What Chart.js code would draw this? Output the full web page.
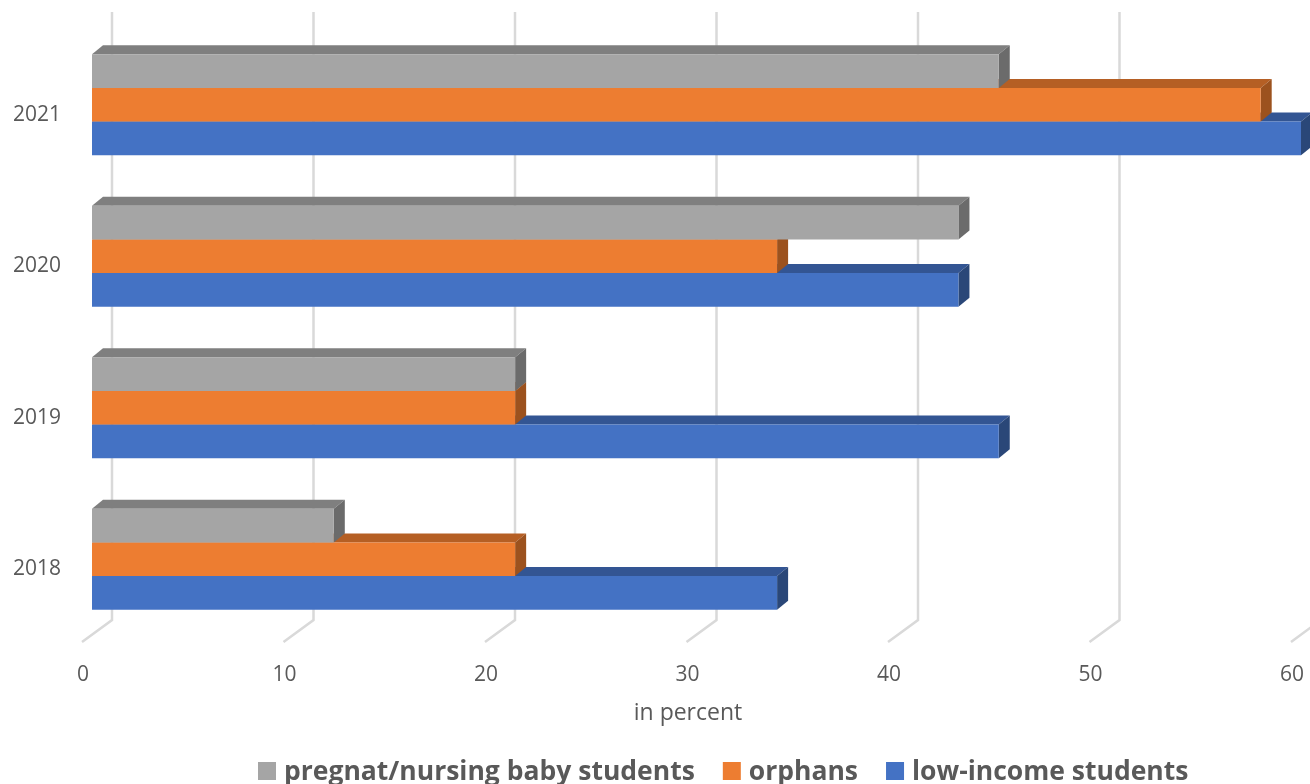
<!DOCTYPE html>
<html>
<head>
<meta charset="utf-8">
<title>Students by year</title>
<script src="https://cdn.jsdelivr.net/npm/chart.js@4"></script>
<style>
html, body { margin: 0; padding: 0; background: #fff; overflow: hidden; }
canvas { display: block; }
</style>
</head>
<body>
<canvas id="myChart" width="1310" height="784"></canvas>
<script>
const YEARS = ["2021", "2020", "2019", "2018"];
const PREGNANT = [45, 43, 21, 12];
const ORPHANS = [58, 34, 21, 21];
const LOW_INCOME = [60, 43, 45, 34];
const SERIES_NAMES = ["pregnat/nursing baby students", "orphans", "low-income students"];
const AXIS_TITLE = "in percent";

const FRONT_COLORS = ["#A5A5A5", "#ED7D31", "#4472C4"];
const TOP_COLORS = ["#7F7F7F", "#B55F24", "#335593"];
const SIDE_COLORS = ["#6B6B6B", "#9C521E", "#2A4778"];
const TEXT_COLOR = "#595959";
const GRID_COLOR = "#D9D9D9";
const FONT = '"Open Sans", sans-serif';

// fake 3d: how far the back of a bar sits from its front face
const DEPTH_X = 11;
const DEPTH_Y = 9;

function poly(ctx, color, pts) {
	ctx.fillStyle = color;
	ctx.beginPath();
	pts.forEach((p, i) => (i ? ctx.lineTo(p[0], p[1]) : ctx.moveTo(p[0], p[1])));
	ctx.closePath();
	ctx.fill();
}

const wallGrid = {
	id: "wallGrid",
	beforeDatasetsDraw(chart) {
		const { ctx, scales } = chart;
		ctx.save();
		ctx.strokeStyle = GRID_COLOR;
		ctx.lineWidth = 2.5;
		scales.x.ticks.forEach((tick) => {
			const x = scales.x.getPixelForValue(tick.value);
			ctx.beginPath();
			ctx.moveTo(x + 20, 12);
			ctx.lineTo(x + 20, 620);
			ctx.lineTo(x - 10, 642);
			ctx.stroke();
		});
		ctx.restore();
	},
};

const barDepth = {
	id: "barDepth",
	beforeDatasetsDraw(chart) {
		const { ctx } = chart;
		ctx.save();
		// bottom series first, so the upper bar's side covers what is behind it
		for (let i = chart.data.datasets.length - 1; i >= 0; i--) {
			chart.getDatasetMeta(i).data.forEach((bar) => {
				const top = bar.y - bar.height / 2;
				const bottom = bar.y + bar.height / 2;
				poly(ctx, TOP_COLORS[i], [
					[bar.base, top],
					[bar.base + DEPTH_X, top - DEPTH_Y],
					[bar.x + DEPTH_X, top - DEPTH_Y],
					[bar.x, top],
				]);
				poly(ctx, SIDE_COLORS[i], [
					[bar.x, top],
					[bar.x + DEPTH_X, top - DEPTH_Y],
					[bar.x + DEPTH_X, bottom - DEPTH_Y],
					[bar.x, bottom],
				]);
			});
		}
		ctx.restore();
	},
};

const bottomText = {
	id: "bottomText",
	afterDraw(chart) {
		const { ctx } = chart;
		ctx.save();
		ctx.textBaseline = "middle";
		ctx.fillStyle = TEXT_COLOR;
		ctx.font = "23px " + FONT;
		ctx.textAlign = "center";
		ctx.fillText(AXIS_TITLE, 688, 713);

		ctx.textAlign = "left";
		ctx.font = "bold 26.5px " + FONT;
		let x = 258;
		SERIES_NAMES.forEach((name, i) => {
			ctx.fillStyle = FRONT_COLORS[i];
			ctx.fillRect(x, 762, 18, 18);
			ctx.fillStyle = TEXT_COLOR;
			ctx.fillText(name, x + 26, 772);
			x += 26 + ctx.measureText(name).width + 28;
		});
		ctx.restore();
	},
};

new Chart(document.getElementById("myChart"), {
	type: "bar",
	data: {
		labels: YEARS,
		datasets: [PREGNANT, ORPHANS, LOW_INCOME].map((values, i) => ({
			label: SERIES_NAMES[i],
			data: values,
			backgroundColor: FRONT_COLORS[i],
			categoryPercentage: 0.667,
			barPercentage: 1,
			borderWidth: 0,
		})),
	},
	options: {
		responsive: false,
		animation: false,
		indexAxis: "y",
		layout: { padding: { top: 29, right: 9 } },
		plugins: {
			legend: { display: false },
			tooltip: { enabled: false },
		},
		scales: {
			x: {
				min: 0,
				max: 60,
				afterFit(scale) {
					scale.height = 149;
					scale.paddingLeft = 0;
					scale.paddingRight = 0;
				},
				grid: { display: false, drawTicks: false },
				border: { display: false },
				ticks: {
					stepSize: 10,
					maxRotation: 0,
					labelOffset: -9,
					padding: 27,
					color: TEXT_COLOR,
					font: { family: FONT, size: 21 },
				},
			},
			y: {
				afterFit(scale) {
					scale.width = 92;
					scale.paddingTop = 0;
					scale.paddingBottom = 0;
				},
				grid: { display: false, drawTicks: false },
				border: { display: false },
				ticks: {
					labelOffset: 10,
					padding: 31,
					color: TEXT_COLOR,
					font: { family: FONT, size: 21 },
				},
			},
		},
	},
	plugins: [wallGrid, barDepth, bottomText],
});
</script>
</body>
</html>
